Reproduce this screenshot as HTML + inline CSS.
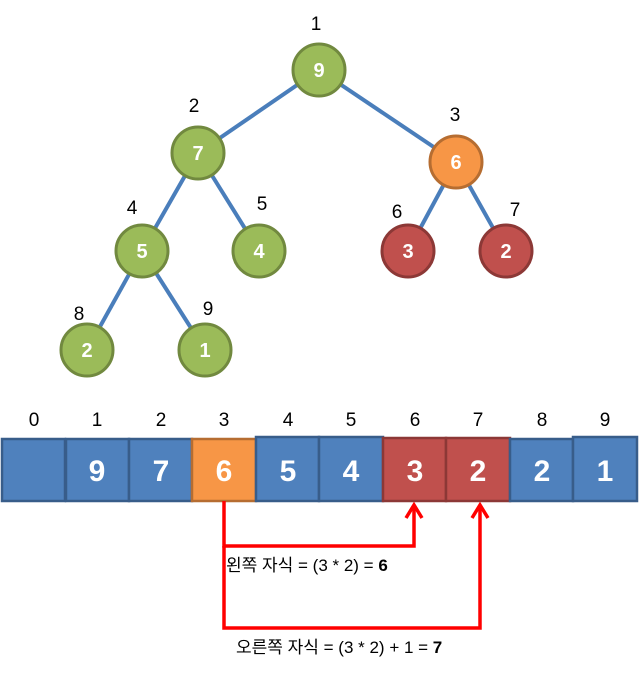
<!DOCTYPE html>
<html><head><meta charset="utf-8"><style>
body{margin:0;background:#fff;width:639px;height:670px;overflow:hidden}
text{font-family:"Liberation Sans","Noto Sans CJK KR",sans-serif}
</style></head><body>
<svg width="639" height="670" viewBox="0 0 639 670" xmlns="http://www.w3.org/2000/svg">
<g stroke="#4a7ebb" stroke-width="4">
<line x1="319" y1="70" x2="198" y2="153"/><line x1="319" y1="70" x2="456" y2="162"/>
<line x1="198" y1="153" x2="142" y2="251"/><line x1="198" y1="153" x2="259" y2="251"/>
<line x1="456" y1="162" x2="408" y2="251"/><line x1="456" y1="162" x2="506" y2="251"/>
<line x1="142" y1="251" x2="87" y2="350"/><line x1="142" y1="251" x2="205" y2="350"/>
</g>
<g stroke-width="3">
<circle cx="319" cy="70" r="26" fill="#9bbb59" stroke="#71893f"/>
<circle cx="198" cy="153" r="26" fill="#9bbb59" stroke="#71893f"/>
<circle cx="456" cy="162" r="26" fill="#f79646" stroke="#b66d31"/>
<circle cx="142" cy="251" r="26" fill="#9bbb59" stroke="#71893f"/>
<circle cx="259" cy="251" r="26" fill="#9bbb59" stroke="#71893f"/>
<circle cx="408" cy="251" r="26" fill="#c0504d" stroke="#8c3836"/>
<circle cx="506" cy="251" r="26" fill="#c0504d" stroke="#8c3836"/>
<circle cx="87" cy="350" r="26" fill="#9bbb59" stroke="#71893f"/>
<circle cx="205" cy="350" r="26" fill="#9bbb59" stroke="#71893f"/>
</g>
<g fill="#fff" font-weight="bold" font-size="20" text-anchor="middle">
<text x="319" y="77">9</text><text x="198" y="160">7</text><text x="456" y="169">6</text>
<text x="142" y="258">5</text><text x="259" y="258">4</text><text x="408" y="258">3</text>
<text x="506" y="258">2</text><text x="87" y="357">2</text><text x="205" y="357">1</text>
</g>
<g font-size="19" text-anchor="middle" fill="#000">
<text x="316" y="30">1</text><text x="194" y="112">2</text><text x="455" y="121">3</text>
<text x="132" y="214">4</text><text x="262" y="210">5</text><text x="397" y="218">6</text>
<text x="515" y="216">7</text><text x="79" y="320">8</text><text x="208" y="315">9</text>
</g>
<g font-size="19" text-anchor="middle" fill="#000">
<text x="34" y="426">0</text><text x="97" y="426">1</text><text x="161" y="426">2</text>
<text x="224" y="426">3</text><text x="288" y="426">4</text><text x="351" y="426">5</text>
<text x="415" y="426">6</text><text x="478" y="426">7</text><text x="542" y="426">8</text><text x="605" y="426">9</text>
</g>
<g stroke-width="2.5">
<rect x="2" y="439" width="63" height="62" fill="#4f81bd" stroke="#385d8a"/>
<rect x="66" y="439" width="63" height="62" fill="#4f81bd" stroke="#385d8a"/>
<rect x="129" y="439" width="63" height="62" fill="#4f81bd" stroke="#385d8a"/>
<rect x="192" y="439" width="64" height="62" fill="#f79646" stroke="#b66d31"/>
<rect x="256" y="437" width="63" height="64" fill="#4f81bd" stroke="#385d8a"/>
<rect x="319" y="437" width="64" height="64" fill="#4f81bd" stroke="#385d8a"/>
<rect x="383" y="438" width="63" height="63" fill="#c0504d" stroke="#8c3836"/>
<rect x="446" y="438" width="64" height="63" fill="#c0504d" stroke="#8c3836"/>
<rect x="510" y="439" width="63" height="62" fill="#4f81bd" stroke="#385d8a"/>
<rect x="573" y="437" width="64" height="64" fill="#4f81bd" stroke="#385d8a"/>
</g>
<g fill="#fff" font-weight="bold" font-size="30" text-anchor="middle">
<text x="97" y="481">9</text><text x="161" y="481">7</text><text x="224" y="481">6</text>
<text x="288" y="481">5</text><text x="351" y="481">4</text><text x="415" y="481">3</text>
<text x="478" y="481">2</text><text x="542" y="481">2</text><text x="605" y="481">1</text>
</g>
<g stroke="#ff0000" stroke-width="3.5" fill="none">
<polyline points="224,501 224,546 414,546 414,506"/>
<polyline points="224,546 224,628 480,628 480,506"/>
<polyline points="406,518 414,505 422,518"/>
<polyline points="472,518 480,505 488,518"/>
</g>
<text x="226" y="571" font-size="17" fill="#000">왼쪽 자식 = (3 * 2) = <tspan font-weight="bold">6</tspan></text>
<text x="236" y="653" font-size="17" fill="#000">오른쪽 자식 = (3 * 2) + 1 = <tspan font-weight="bold">7</tspan></text>
</svg>
</body></html>
